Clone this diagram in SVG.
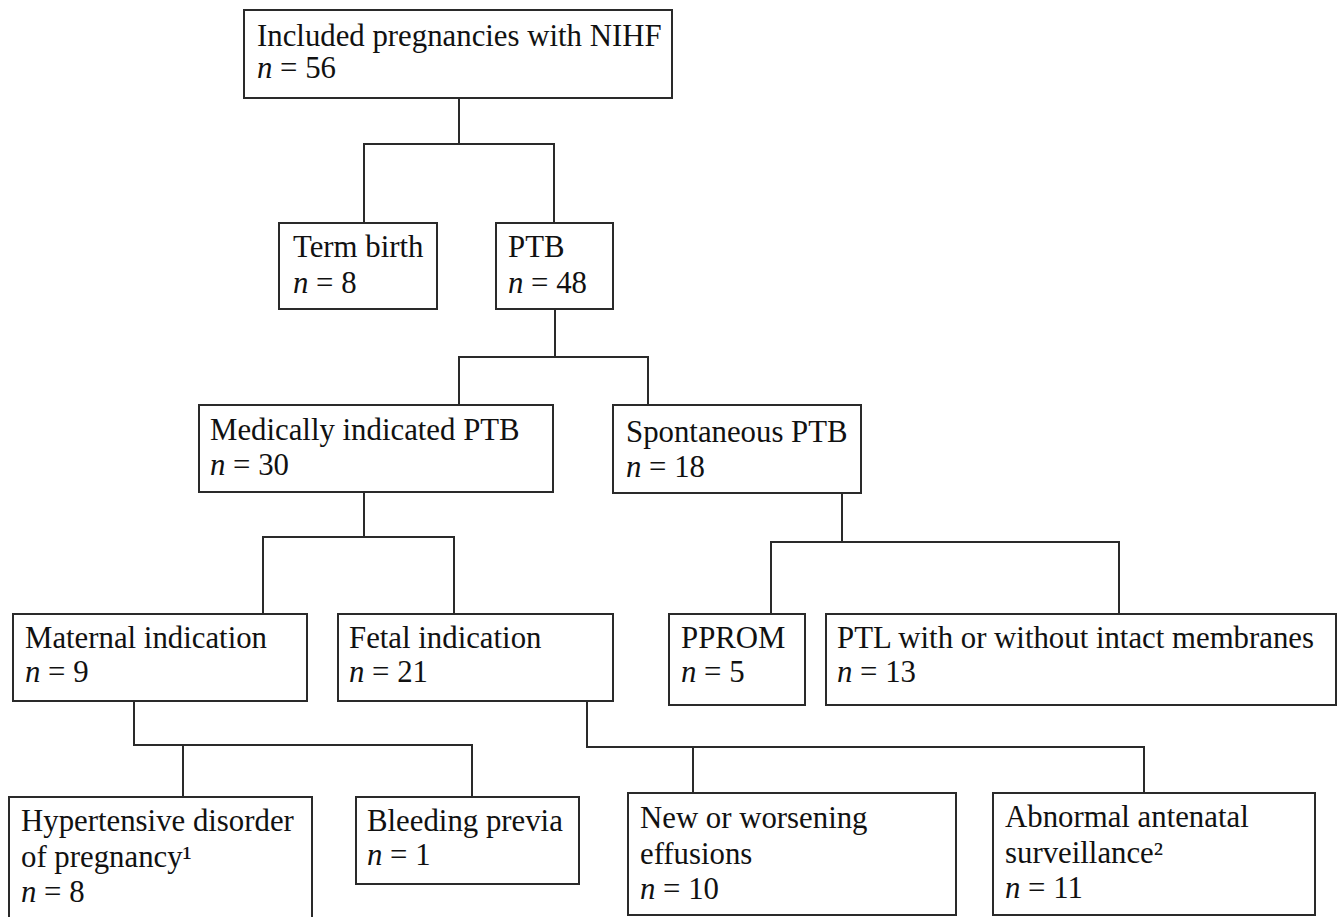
<svg xmlns="http://www.w3.org/2000/svg" width="1342" height="917" viewBox="0 0 1342 917">
<style>
.box{fill:#fff;stroke:#2a2a2a;stroke-width:2}
.con{fill:none;stroke:#2a2a2a;stroke-width:2;stroke-linecap:square}
text{font-family:"Liberation Serif","Times New Roman",serif;font-size:30.8px;fill:#111}
.i{font-style:italic}
</style>
<rect width="1342" height="917" fill="#fff"/>
<g id="connectors">
<path class="con" d="M459,98V144M364,144H554M364,144V223M554,144V223"/>
<path class="con" d="M555,309V357M459,357H648M459,357V405M648,357V405"/>
<path class="con" d="M364,492V537M263,537H454M263,537V614M454,537V614"/>
<path class="con" d="M842,493V542M771,542H1119M771,542V614M1119,542V614"/>
<path class="con" d="M134,701V745M134,745H472M183,745V797M472,745V797"/>
<path class="con" d="M587,701V747M587,747H1144M693,747V793M1144,747V793"/>
</g>
<g id="n-included">
<rect class="box" x="244" y="10" width="428" height="88"/>
<text x="257" y="46">Included pregnancies with NIHF</text>
<text x="257" y="78"><tspan class="i">n</tspan> = 56</text>
</g>
<g id="n-term">
<rect class="box" x="279" y="223" width="158" height="86"/>
<text x="293" y="257">Term birth</text>
<text x="293" y="293"><tspan class="i">n</tspan> = 8</text>
</g>
<g id="n-ptb">
<rect class="box" x="496" y="223" width="117" height="86"/>
<text x="508" y="257">PTB</text>
<text x="508" y="293"><tspan class="i">n</tspan> = 48</text>
</g>
<g id="n-medical">
<rect class="box" x="199" y="405" width="354" height="87"/>
<text x="210" y="440">Medically indicated PTB</text>
<text x="210" y="475"><tspan class="i">n</tspan> = 30</text>
</g>
<g id="n-spontaneous">
<rect class="box" x="613" y="405" width="248" height="88"/>
<text x="626" y="442">Spontaneous PTB</text>
<text x="626" y="477"><tspan class="i">n</tspan> = 18</text>
</g>
<g id="n-maternal">
<rect class="box" x="13" y="614" width="294" height="87"/>
<text x="25" y="648">Maternal indication</text>
<text x="25" y="682"><tspan class="i">n</tspan> = 9</text>
</g>
<g id="n-fetal">
<rect class="box" x="338" y="614" width="275" height="87"/>
<text x="349" y="648">Fetal indication</text>
<text x="349" y="682"><tspan class="i">n</tspan> = 21</text>
</g>
<g id="n-pprom">
<rect class="box" x="669" y="614" width="136" height="91"/>
<text x="681" y="648">PPROM</text>
<text x="681" y="682"><tspan class="i">n</tspan> = 5</text>
</g>
<g id="n-ptl">
<rect class="box" x="826" y="614" width="510" height="91"/>
<text x="837" y="648">PTL with or without intact membranes</text>
<text x="837" y="682"><tspan class="i">n</tspan> = 13</text>
</g>
<g id="n-hypertensive">
<rect class="box" x="9" y="797" width="303" height="125"/>
<text x="21" y="831">Hypertensive disorder</text>
<text x="21" y="867">of pregnancy¹</text>
<text x="21" y="902"><tspan class="i">n</tspan> = 8</text>
</g>
<g id="n-bleeding">
<rect class="box" x="356" y="797" width="223" height="87"/>
<text x="367" y="831">Bleeding previa</text>
<text x="367" y="865"><tspan class="i">n</tspan> = 1</text>
</g>
<g id="n-effusions">
<rect class="box" x="628" y="793" width="328" height="122"/>
<text x="640" y="828">New or worsening</text>
<text x="640" y="864">effusions</text>
<text x="640" y="899"><tspan class="i">n</tspan> = 10</text>
</g>
<g id="n-surveillance">
<rect class="box" x="993" y="793" width="322" height="122"/>
<text x="1005" y="827">Abnormal antenatal</text>
<text x="1005" y="863">surveillance²</text>
<text x="1005" y="898"><tspan class="i">n</tspan> = 11</text>
</g>
</svg>
